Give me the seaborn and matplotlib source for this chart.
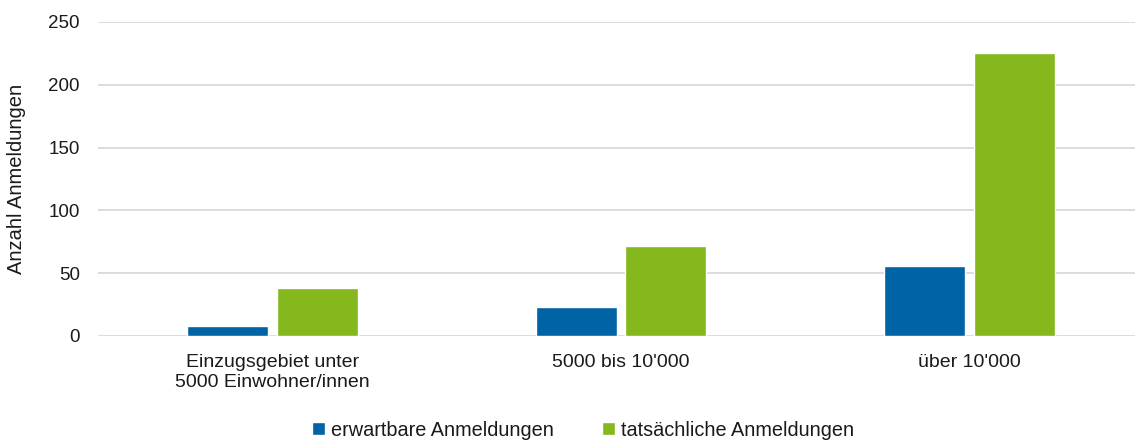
import matplotlib
matplotlib.use("Agg")
import matplotlib.pyplot as plt
import seaborn as sns
import pandas as pd

categories = ["Einzugsgebiet unter\n5000 Einwohner/innen", "5000 bis 10'000", "über 10'000"]
series_names = ["erwartbare Anmeldungen", "tatsächliche Anmeldungen"]
erwartbar = [8, 23, 56]
tatsaechlich = [38, 72, 225]
y_ticks = [0, 50, 100, 150, 200, 250]
colors = ["#0063A6", "#84B81C"]

df = pd.DataFrame({
    "Kategorie": categories * 2,
    "Serie": [series_names[0]] * 3 + [series_names[1]] * 3,
    "Wert": erwartbar + tatsaechlich,
})

sns.set_theme(style="white")
plt.rcParams["font.family"] = ["Liberation Sans", "DejaVu Sans"]
text_color = "#1a1a1a"

W, H = 1135, 441
fig = plt.figure(figsize=(W / 100, H / 100), dpi=100)
ax = fig.add_axes([98 / W, (H - 336) / H, 1046 / W, 314 / H])

sns.barplot(data=df, x="Kategorie", y="Wert", hue="Serie", palette=colors,
            width=0.516, gap=0.1, ax=ax, saturation=1, legend=True)

ax.set_ylim(0, 250)
ax.set_xlim(-0.5, 2.5)
ax.set_yticks(y_ticks)
ax.set_yticklabels([str(v) for v in y_ticks])
ax.yaxis.grid(True, color="#d9d9d9", linewidth=1.3)
ax.set_axisbelow(True)
for s in ax.spines.values():
    s.set_visible(False)
ax.tick_params(axis="y", length=0, labelsize=13.5, colors=text_color, pad=13)
ax.tick_params(axis="x", length=0, labelsize=14, colors=text_color, pad=13)
ax.set_xlabel("")
ax.set_ylabel("Anzahl Anmeldungen", fontsize=14.5, color=text_color)
ax.yaxis.set_label_coords(-(98 - 26) / 1046, 0.5)

handles, labels = ax.get_legend_handles_labels()
ax.get_legend().remove()
fig.legend(handles, labels, loc="center", bbox_to_anchor=(583 / W, 1 - 430 / H),
           ncol=2, frameon=False, fontsize=14.3, handlelength=0.65, handleheight=0.65,
           handletextpad=0.3, columnspacing=2.4, labelcolor=text_color,
           borderpad=0.2)

fig.savefig("out.png", dpi=100)
